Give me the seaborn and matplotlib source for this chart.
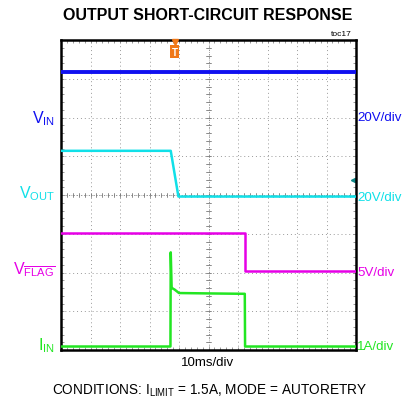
import matplotlib
matplotlib.use("Agg")
import matplotlib.pyplot as plt
import seaborn as sns
import pandas as pd

# time in divisions (10ms/div), levels in screen divisions (0..8 from bottom)
vin_t = [0.0, 10.0]
vin_v = [7.18, 7.18]

vout_t = [0.0, 3.72, 3.98, 10.0]
vout_v = [5.14, 5.14, 3.96, 3.96]

vflag_t = [0.0, 6.24, 6.24, 10.0]
vflag_v = [3.02, 3.02, 2.05, 2.05]

iin_t = [0.0, 3.71, 3.72, 3.75, 3.78, 3.85, 4.0, 5.0, 6.23, 6.24, 10.0]
iin_v = [0.09, 0.09, 2.52, 1.62, 1.59, 1.56, 1.47, 1.46, 1.45, 0.09, 0.09]

trace_colors = {"VIN": "#1010f0", "VOUT": "#10e0e8", "VFLAG": "#e600e6", "IIN": "#22e622"}
trace_widths = {"VIN": 2.8, "VOUT": 1.8, "VFLAG": 1.8, "IIN": 1.8}

left_labels = [r"V$_{\mathregular{IN}}$", r"V$_{\mathregular{OUT}}$",
               r"V$_{\overline{\mathregular{FLAG}}}$", r"I$_{\mathregular{IN}}$"]
left_y = [6.0, 4.05, 2.1, 0.15]
right_labels = ["20V/div", "20V/div", "5V/div", "1A/div"]
right_y = [6.0, 3.95, 2.0, 0.1]
label_keys = ["VIN", "VOUT", "VFLAG", "IIN"]

sns.set_style("white")
plt.rcParams["font.family"] = ["Liberation Sans", "DejaVu Sans"]
plt.rcParams["text.color"] = "black"
plt.rcParams["mathtext.fontset"] = "custom"
plt.rcParams["mathtext.rm"] = "Liberation Sans"
plt.rcParams["mathtext.it"] = "Liberation Sans"

frames = []
for key, t, v in [("VIN", vin_t, vin_v), ("VOUT", vout_t, vout_v),
                  ("VFLAG", vflag_t, vflag_v), ("IIN", iin_t, iin_v)]:
    frames.append(pd.DataFrame({"t": t, "v": v, "trace": key}))
df = pd.concat(frames, ignore_index=True)

fig = plt.figure(figsize=(4.03, 4.02), dpi=100)
ax = fig.add_axes([61 / 403, 51 / 402, 295 / 403, 310 / 402])

# grid: dotted lines every division
for i in range(1, 10):
    ax.axvline(i, color="#999999", lw=0.7, ls=(0, (1, 3)), zorder=0)
for j in range(1, 8):
    ax.axhline(j, color="#999999", lw=0.7, ls=(0, (1, 3)), zorder=0)

# centre axes with minor ticks
ax.axvline(5, color="#888888", lw=0.6, ls=(0, (1, 2)), zorder=0)
ax.axhline(4, color="#888888", lw=0.6, ls=(0, (1, 2)), zorder=0)
for k in range(1, 50):
    x = k * 0.2
    ax.plot([x, x], [3.94, 4.06], color="#777777", lw=0.6, zorder=0)
for k in range(1, 40):
    y = k * 0.2
    ax.plot([4.93, 5.07], [y, y], color="#777777", lw=0.6, zorder=0)

for key in label_keys:
    sub = df[df["trace"] == key]
    sns.lineplot(data=sub, x="t", y="v", ax=ax, color=trace_colors[key],
                 lw=trace_widths[key], estimator=None, sort=False, zorder=3)

ax.set_xlim(0, 10)
ax.set_ylim(0, 8)
ax.set_xticks([])
ax.set_yticks([])
ax.set_xlabel("")
ax.set_ylabel("")
for s in ax.spines.values():
    s.set_color("black")
    s.set_linewidth(1.8)
ax.tick_params(which="minor", direction="in", length=2)
ax.set_xticks([k * 0.2 for k in range(1, 50)], minor=True)
ax.set_yticks([k * 0.2 for k in range(1, 40)], minor=True)
ax.tick_params(which="minor", top=True, right=True, bottom=True, left=True,
               color="#888888", labelbottom=False, labelleft=False)

for lab, y, key in zip(left_labels, left_y, label_keys):
    ax.text(-0.2, y, lab, color=trace_colors[key], fontsize=11.5,
            ha="right", va="center", clip_on=False)
for lab, y, key in zip(right_labels, right_y, label_keys):
    ax.text(10.04, y, lab, color=trace_colors[key], fontsize=9.6,
            ha="left", va="center", clip_on=False)

# trigger marker and VOUT offset marker
ax.plot([3.86], [7.95], marker="v", color="#f07818", ms=4, clip_on=False, zorder=5)
ax.text(3.86, 7.7, "T", color="white", fontsize=7, fontweight="bold",
        ha="center", va="center", clip_on=False, zorder=6,
        bbox=dict(boxstyle="square,pad=0.15", fc="#f07818", ec="none"))
ax.plot([9.9], [4.38], marker="<", color="#108888", ms=3, clip_on=False)

fig.text(208 / 403, 1 - 15 / 402, "OUTPUT SHORT-CIRCUIT RESPONSE",
         ha="center", va="center", fontsize=11.5, fontweight="bold")
fig.text(352 / 403, 1 - 35 / 402, "toc17", ha="right", va="center", fontsize=6)
fig.text(208 / 403, 1 - 363 / 402, "10ms/div", ha="center", va="center", fontsize=9.5)
fig.text(210 / 403, 1 - 391 / 402,
         r"CONDITIONS: I$_{\mathregular{LIMIT}}$ = 1.5A, MODE = AUTORETRY",
         ha="center", va="center", fontsize=9.8)

fig.savefig("out.png", dpi=100)
